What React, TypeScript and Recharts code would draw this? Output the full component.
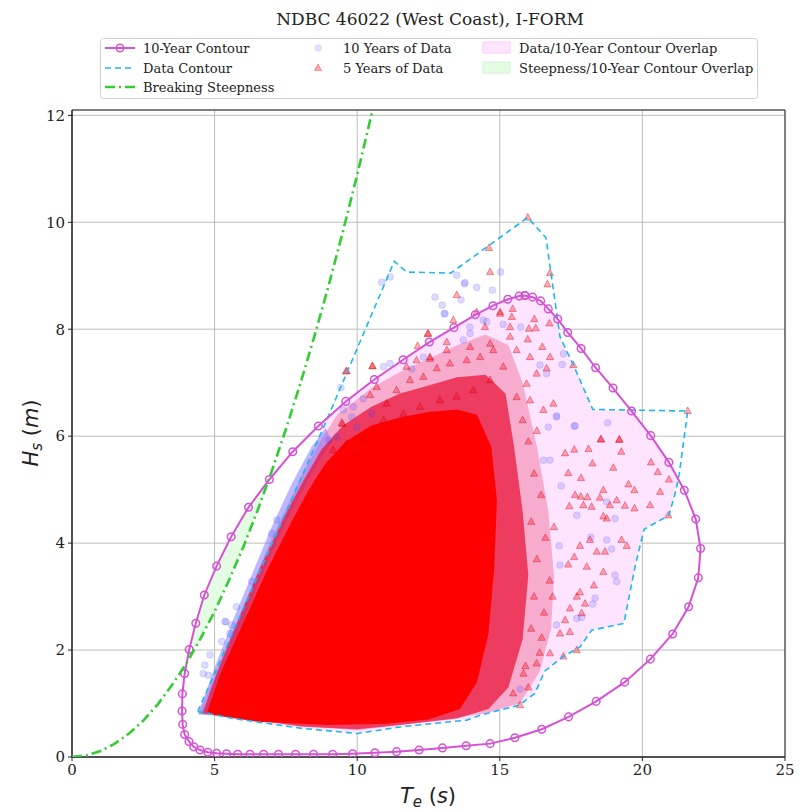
import React from 'react';
import { ScatterChart, Scatter, XAxis, YAxis, CartesianGrid, ReferenceArea } from 'recharts';

// 10-year I-FORM contour (Te, Hs), traced around the loop
const contour10yr: [number, number][] = [
  [15.88, 8.63], [15.68, 8.62], [15.28, 8.56], [14.76, 8.44], [14.14, 8.27], [13.39, 8.03],
  [12.53, 7.76], [11.61, 7.43], [10.6, 7.06], [9.6, 6.65], [8.64, 6.19], [7.74, 5.71],
  [6.92, 5.19], [6.19, 4.67], [5.58, 4.12], [5.07, 3.57], [4.64, 3.03], [4.34, 2.5],
  [4.11, 2.01], [3.95, 1.56], [3.87, 1.18], [3.86, 0.86], [3.88, 0.61], [3.95, 0.42],
  [4.1, 0.29], [4.27, 0.19], [4.49, 0.13], [4.76, 0.09], [5.07, 0.07], [5.42, 0.06],
  [5.81, 0.05], [6.24, 0.05], [6.72, 0.05], [7.24, 0.05], [7.84, 0.05], [8.47, 0.05],
  [9.14, 0.05], [9.84, 0.06], [10.62, 0.08], [11.38, 0.1], [12.17, 0.13], [12.99, 0.17],
  [13.82, 0.21], [14.66, 0.25], [15.53, 0.36], [16.47, 0.52], [17.41, 0.75], [18.38, 1.04],
  [19.38, 1.4], [20.28, 1.83], [21.06, 2.3], [21.62, 2.81], [21.96, 3.35], [22.04, 3.9],
  [21.87, 4.45], [21.47, 4.99], [20.93, 5.51], [20.29, 6.01], [19.62, 6.47], [18.97, 6.9],
  [18.36, 7.28], [17.85, 7.64], [17.38, 7.94], [17.03, 8.19], [16.7, 8.38], [16.43, 8.53],
  [16.15, 8.6], [15.88, 8.63],
];

// hull of the buoy data
const dataContour: [number, number][] = [
  [4.41, 0.85], [8.93, 6.3], [11.3, 9.27], [11.73, 9.07], [13.28, 9.05], [15.98, 10.09],
  [16.62, 9.71], [17.11, 7.86], [17.58, 7.33], [18.26, 6.5], [21.59, 6.47], [21.29, 5.29],
  [21.18, 4.99], [20.93, 4.52], [20.06, 4.26], [19.75, 3.58], [19.35, 2.5], [18.22, 2.37],
  [17.81, 2.06], [17.23, 1.88], [16.58, 1.61], [16.23, 1.19], [15.68, 0.97], [15.01, 0.88],
  [14.31, 0.78], [13.84, 0.69], [11.6, 0.57], [10.0, 0.44], [8.0, 0.54], [5.66, 0.72],
  [4.41, 0.85],
];

const steepnessTe = [0, 0.5, 1, 1.5, 2, 2.5, 3, 3.5, 4, 4.5, 5, 5.5, 6, 6.5, 7, 7.5, 8, 8.5, 9, 9.5, 10, 10.53];
const steepnessHs = [0, 0.03, 0.11, 0.25, 0.44, 0.68, 0.98, 1.34, 1.74, 2.21, 2.72, 3.3, 3.92, 4.6, 5.34, 6.13, 6.97, 7.87, 8.82, 9.83, 10.89, 12.08];

const dataOverlap: [number, number][] = [
  [4.41, 0.85], [8.95, 6.33], [9.6, 6.65], [10.6, 7.06], [11.61, 7.43], [12.53, 7.76],
  [13.39, 8.03], [14.14, 8.27], [14.76, 8.44], [15.28, 8.56], [15.68, 8.62], [15.88, 8.63],
  [16.15, 8.6], [16.43, 8.53], [16.7, 8.38], [17.03, 8.17], [17.11, 7.86], [17.58, 7.33],
  [18.26, 6.5], [19.62, 6.48], [20.29, 6.01], [20.93, 5.51], [21.26, 5.2], [21.18, 4.99],
  [20.93, 4.52], [20.06, 4.26], [19.75, 3.58], [19.35, 2.5], [18.22, 2.37], [17.81, 2.06],
  [17.23, 1.88], [16.58, 1.61], [16.23, 1.19], [15.68, 0.97], [15.01, 0.88], [14.31, 0.78],
  [13.84, 0.69], [11.6, 0.57], [10.0, 0.44], [8.0, 0.54], [5.66, 0.72],
];

const steepOverlap: [number, number][] = [
  [4.02, 1.76], [4.11, 2.01], [4.34, 2.5], [4.64, 3.03], [5.07, 3.57], [5.58, 4.12],
  [6.19, 4.67], [6.9, 5.18], [6.5, 4.6], [6.0, 3.92], [5.5, 3.3], [5.0, 2.72], [4.5, 2.21],
];

// density envelopes of the scatter cloud: sparse outer, blue fringe, dense middle, saturated core
const cloudOuter: [number, number][] = [
  [9.3, 6.4], [10.5, 6.9], [11.5, 7.2], [12.5, 7.45], [13.5, 7.7], [14.5, 7.9], [15.3, 7.7],
  [15.8, 7.0], [16.3, 5.8], [16.7, 4.6], [16.9, 3.4], [16.8, 2.4], [16.4, 1.6], [15.7, 1.0],
  [14.5, 0.82], [13.0, 0.7], [11.5, 0.6], [10.0, 0.5], [8.0, 0.58], [5.7, 0.75], [4.45, 0.8],
  [5.0, 1.5], [6.0, 2.8], [7.0, 4.1], [8.0, 5.2], [8.7, 5.9],
];
const cloudFringe: [number, number][] = [
  [4.42, 0.8], [4.95, 1.6], [5.6, 2.5], [6.3, 3.4], [7.0, 4.3], [7.7, 5.1], [8.4, 5.8],
  [8.9, 6.15], [9.1, 5.9], [8.3, 5.2], [7.6, 4.5], [6.9, 3.7], [6.2, 2.8], [5.5, 1.8],
  [5.0, 1.1], [4.8, 0.78],
];
const cloudMid: [number, number][] = [
  [4.58, 0.82], [5.1, 1.6], [5.85, 2.6], [6.6, 3.55], [7.4, 4.45], [8.15, 5.2], [8.75, 5.75],
  [9.5, 6.2], [10.5, 6.55], [11.5, 6.8], [12.5, 6.95], [13.5, 7.1], [14.5, 7.15], [15.2, 6.8],
  [15.5, 5.8], [15.8, 4.6], [16.0, 3.4], [15.8, 2.2], [15.3, 1.3], [14.6, 0.9], [13.5, 0.72],
  [11.5, 0.6], [10.0, 0.52], [8.0, 0.57], [5.7, 0.75],
];
const cloudCore: [number, number][] = [
  [4.75, 0.85], [5.2, 1.55], [6.0, 2.5], [6.8, 3.45], [7.6, 4.3], [8.3, 5.0], [8.9, 5.5],
  [9.6, 5.9], [10.5, 6.2], [11.5, 6.35], [12.5, 6.45], [13.5, 6.5], [14.2, 6.4], [14.7, 5.8],
  [14.9, 4.8], [14.8, 3.5], [14.6, 2.3], [14.2, 1.4], [13.6, 0.9], [12.5, 0.7], [11.0, 0.62],
  [9.0, 0.6], [6.5, 0.66], [5.0, 0.78],
];

// individually visible observations in the sparse parts of the cloud
const tenYearPts: [number, number][] = [
  [16.99, 6.38], [17.61, 6.19], [18.78, 6.25], [16.7, 6.17], [16.76, 5.55], [16.53, 5.55],
  [17.15, 5.07], [18.75, 4.77], [19.04, 4.46], [17.7, 4.52], [18.19, 4.11], [18.75, 4.06],
  [18.92, 3.89], [17.08, 3.95], [17.11, 3.59], [19.04, 3.4], [19.1, 3.28], [18.34, 2.97],
  [18.26, 2.86], [17.7, 2.59], [17.87, 2.61], [16.99, 2.47], [15.71, 1.27],
  [10.86, 8.88], [11.15, 8.98], [15.03, 9.07], [13.49, 9.01], [13.78, 8.87], [14.19, 8.78],
  [14.74, 8.73], [12.73, 8.6], [13.64, 8.55], [13.05, 8.29], [17.23, 7.54], [17.19, 7.34],
  [17.64, 6.19], [16.99, 6.36], [16.41, 7.33], [16.64, 7.17], [15.73, 8.04], [15.12, 8.09],
  [14.54, 8.14], [13.96, 7.92], [12.98, 8.45], [13.08, 8.29], [13.76, 8.85], [11.15, 7.36],
  [10.92, 7.3], [10.21, 6.7], [9.86, 6.55], [9.51, 6.49], [9.81, 6.36], [9.43, 6.91],
  [9.02, 5.93], [9.28, 5.99], [9.98, 6.17], [10.51, 6.42], [11.91, 7.26], [12.32, 7.48],
  [13.72, 7.8], [13.95, 8.04], [14.42, 8.17], [7.18, 4.43], [7.0, 4.18], [6.3, 3.28],
  [5.77, 2.81], [5.4, 2.53], [5.6, 2.47], [5.25, 2.16], [4.84, 1.91], [4.66, 1.72],
  [4.6, 1.56], [4.78, 1.53], [5.54, 2.31], [5.36, 2.53],
];
const fiveYearPts: [number, number][] = [
  [18.54, 5.94], [19.19, 5.93], [19.26, 5.71], [18.11, 5.76], [17.61, 5.75], [17.29, 5.68],
  [18.25, 5.49], [18.98, 5.41], [20.3, 5.51], [20.54, 5.33], [20.93, 5.19], [17.4, 5.31],
  [17.85, 5.22], [18.63, 4.99], [19.51, 5.1], [19.72, 4.99], [20.62, 4.96], [20.27, 4.71],
  [19.72, 4.65], [19.39, 4.7], [19.1, 4.8], [18.86, 4.71], [18.51, 4.85], [18.07, 4.86],
  [17.84, 4.87], [17.64, 4.9], [17.44, 4.69], [17.93, 4.71], [18.22, 4.68], [18.63, 4.5],
  [18.75, 4.46], [19.27, 4.06], [19.45, 3.95], [18.69, 3.84], [18.4, 3.84], [18.16, 4.06],
  [17.81, 3.95], [17.61, 3.74], [17.4, 3.6], [18.05, 3.56], [18.3, 3.21], [17.81, 3.08],
  [17.7, 3.0], [18.63, 3.46], [17.99, 2.87], [17.46, 2.78], [17.87, 2.69], [17.29, 2.56],
  [17.46, 2.34], [17.11, 2.31], [17.7, 2.0], [17.23, 1.88], [16.76, 1.94], [16.47, 2.23],
  [16.29, 1.75], [15.83, 1.56], [15.47, 1.19], [15.71, 0.97], [20.91, 4.52],
  [15.98, 10.09], [14.62, 9.52], [14.66, 9.07], [13.49, 8.64], [16.76, 9.05], [16.67, 8.84],
  [15.45, 8.38], [16.21, 8.19], [16.74, 8.11], [16.02, 8.01], [16.26, 8.02], [15.98, 7.81],
  [16.49, 7.67], [16.76, 7.48], [17.58, 7.33], [16.06, 7.48], [12.47, 7.91], [12.12, 7.69],
  [10.53, 7.31], [9.61, 7.21], [18.55, 5.94], [19.19, 5.94], [21.59, 6.47], [13.37, 8.17],
  [14.19, 8.32], [15.01, 8.32], [14.48, 8.04], [15.42, 8.23], [12.55, 7.48], [13.14, 7.61],
  [13.96, 7.67], [14.66, 7.73], [15.36, 7.86], [15.59, 7.61], [16.64, 7.27], [15.94, 6.98],
  [16.29, 7.17], [16.88, 6.61], [16.53, 6.49], [16.06, 6.67], [15.59, 6.73], [9.46, 6.25],
  [10.54, 7.31], [9.63, 7.22], [9.48, 6.23], [10.45, 6.77], [10.68, 6.92], [11.38, 6.86],
  [11.03, 6.61], [12.49, 7.92], [13.14, 7.76], [12.08, 7.42], [12.55, 7.45], [11.73, 7.3],
  [11.85, 7.05], [12.32, 7.11], [12.79, 7.27], [13.25, 7.36], [13.84, 7.42], [14.31, 7.48],
  [14.77, 7.61], [11.62, 6.42], [12.2, 6.55], [12.9, 6.67], [13.49, 6.74], [14.07, 6.86],
  [14.66, 7.05], [15.12, 7.3], [15.01, 8.29], [15.36, 8.04], [10.92, 6.3], [10.21, 5.92],
  [9.63, 5.86], [9.16, 5.74], [9.98, 5.68],
  [16.2, 5.3], [16.45, 4.9], [16.1, 4.4], [16.6, 4.1], [16.3, 3.7], [16.75, 3.3],
  [16.2, 3.0], [16.55, 2.7], [16.1, 2.4], [16.4, 1.95], [15.9, 1.7], [16.0, 1.3],
  [16.9, 4.3], [16.85, 3.0], [16.0, 5.9], [15.8, 6.3], [16.3, 6.1],
];

const xTicks = [0, 5, 10, 15, 20, 25];
const yTicks = [0, 2, 4, 6, 8, 10, 12];

const toPts = (arr: [number, number][]) => arr.map(([x, y]) => ({ x, y }));

const MAGENTA = '#d552d5';
const BLUE_LINE = '#1cb8f0';
const GREEN = '#33cc33';
const SERIF = 'DejaVu Serif, serif';
const SANS = 'DejaVu Sans, sans-serif';

const noShape = () => <g />;

const fillPoly = (fill: string, opacity = 1) => (lp: any) => {
  const pts = lp.points || [];
  const d = pts.map((p: any, i: number) => `${i === 0 ? 'M' : 'L'}${p.x},${p.y}`).join(' ') + ' Z';
  return <path d={d} fill={fill} fillOpacity={opacity} stroke="none" />;
};

const circleShape = (p: any) => (
  <circle cx={p.cx} cy={p.cy} r={3.4} fill="rgba(60,60,255,0.18)" stroke="rgba(60,60,255,0.15)" strokeWidth={1} />
);
const triShape = (p: any) => (
  <polygon
    points={`${p.cx},${p.cy - 4} ${p.cx - 3.6},${p.cy + 2.6} ${p.cx + 3.6},${p.cy + 2.6}`}
    fill="rgba(255,0,0,0.32)"
    stroke="rgba(200,0,30,0.38)"
    strokeWidth={1}
  />
);
const ringShape = (p: any) => (
  <circle cx={p.cx} cy={p.cy} r={3.8} fill="none" stroke={MAGENTA} strokeWidth={1.5} />
);

function LegendBox() {
  const row = [48, 68, 87];
  return (
    <g>
      <rect x={100.5} y={38.5} width={657} height={60} rx={3} fill="#fff" fillOpacity={0.85} stroke="#d0d0d0" />
      <line x1={105} x2={135} y1={row[0]} y2={row[0]} stroke={MAGENTA} strokeWidth={2} />
      <circle cx={120} cy={row[0]} r={3.8} fill="none" stroke={MAGENTA} strokeWidth={1.5} />
      <line x1={105} x2={135} y1={row[1]} y2={row[1]} stroke={BLUE_LINE} strokeWidth={1.6} strokeDasharray="6 4" />
      <line x1={105} x2={135} y1={row[2]} y2={row[2]} stroke={GREEN} strokeWidth={2.6} strokeDasharray="10 4 2 4" />
      <circle cx={318} cy={row[0]} r={3.3} fill="rgba(60,60,255,0.15)" stroke="rgba(60,60,255,0.12)" />
      <polygon points={`318,${row[1] - 4} 314.4,${row[1] + 2.6} 321.6,${row[1] + 2.6}`} fill="rgba(255,0,0,0.35)" stroke="rgba(200,0,30,0.3)" />
      <rect x={483} y={row[0] - 6} width={27} height={11} fill="#ffe4ff" stroke="#f6d0f6" />
      <rect x={483} y={row[1] - 6} width={27} height={11} fill="#e4fbe4" stroke="#d4f2d4" />
      <g fontFamily={SERIF} fontSize={13} fill="#222">
        <text x={143} y={row[0] + 4.5}>10-Year Contour</text>
        <text x={143} y={row[1] + 4.5}>Data Contour</text>
        <text x={143} y={row[2] + 4.5}>Breaking Steepness</text>
        <text x={343} y={row[0] + 4.5}>10 Years of Data</text>
        <text x={343} y={row[1] + 4.5}>5 Years of Data</text>
        <text x={519} y={row[0] + 4.5}>Data/10-Year Contour Overlap</text>
        <text x={519} y={row[1] + 4.5}>Steepness/10-Year Contour Overlap</text>
      </g>
    </g>
  );
}

export default function App() {
  const steepness = steepnessTe.map((x, i) => ({ x, y: steepnessHs[i] }));
  return (
    <div style={{ position: 'absolute', left: 0, top: 0, width: 800, height: 810, background: '#fff' }}>
      <ScatterChart width={800} height={810} margin={{ top: 110, right: 15, bottom: 23, left: 32 }}>
        <CartesianGrid stroke="#bdbdbd" strokeWidth={1} />
        <XAxis
          type="number"
          dataKey="x"
          domain={[0, 25]}
          ticks={xTicks}
          height={30}
          tickSize={4}
          tickMargin={3}
          stroke="#222"
          tick={{ fontFamily: SERIF, fontSize: 15, fill: '#222' }}
          allowDataOverflow
        />
        <YAxis
          type="number"
          dataKey="y"
          domain={[0, 12.1]}
          ticks={yTicks}
          width={40}
          tickSize={4}
          tickMargin={3}
          stroke="#222"
          tick={{ fontFamily: SERIF, fontSize: 15, fill: '#222' }}
          allowDataOverflow
        />
        <Scatter data={toPts(dataOverlap)} shape={noShape} line={fillPoly('#ffe4ff')} isAnimationActive={false} />
        <Scatter data={toPts(steepOverlap)} shape={noShape} line={fillPoly('#e4fbe4')} isAnimationActive={false} />
        <Scatter data={toPts(cloudOuter)} shape={noShape} line={fillPoly('#e84070', 0.34)} isAnimationActive={false} />
        <Scatter data={toPts(cloudFringe)} shape={noShape} line={fillPoly('#7a70ff', 0.5)} isAnimationActive={false} />
        <Scatter data={toPts(cloudMid)} shape={noShape} line={fillPoly('#ea1038', 0.72)} isAnimationActive={false} />
        <Scatter data={toPts(cloudCore)} shape={noShape} line={fillPoly('#ff0000')} isAnimationActive={false} />
        <Scatter data={toPts(tenYearPts)} shape={circleShape} isAnimationActive={false} />
        <Scatter data={toPts(fiveYearPts)} shape={triShape} isAnimationActive={false} />
        <Scatter
          data={toPts(dataContour)}
          shape={noShape}
          line={{ stroke: BLUE_LINE, strokeWidth: 1.6, strokeDasharray: '6 4' }}
          isAnimationActive={false}
        />
        <Scatter
          data={toPts(contour10yr)}
          shape={ringShape}
          line={{ stroke: MAGENTA, strokeWidth: 2 }}
          isAnimationActive={false}
        />
        <Scatter
          data={steepness}
          shape={noShape}
          line={{ stroke: GREEN, strokeWidth: 2.6, strokeDasharray: '10 4 2 4' }}
          isAnimationActive={false}
        />
        <ReferenceArea x1={0} x2={25} y1={0} y2={12.1} fill="none" stroke="#222" strokeWidth={1} ifOverflow="visible" />
      </ScatterChart>
      <svg width={800} height={810} style={{ position: 'absolute', left: 0, top: 0, pointerEvents: 'none' }}>
        <text x={430} y={25} textAnchor="middle" fontFamily={SERIF} fontSize={17} fill="#222">
          NDBC 46022 (West Coast), I-FORM
        </text>
        <LegendBox />
        <text x={428} y={803} textAnchor="middle" fontFamily={SANS} fontSize={21} fill="#222">
          <tspan fontStyle="italic">T</tspan>
          <tspan fontStyle="italic" fontSize={15} dy={4}>e</tspan>
          <tspan dy={-4}> (</tspan>
          <tspan fontStyle="italic">s</tspan>
          <tspan>)</tspan>
        </text>
        <text x={0} y={0} transform="translate(38,433) rotate(-90)" textAnchor="middle" fontFamily={SANS} fontSize={21} fill="#222">
          <tspan fontStyle="italic">H</tspan>
          <tspan fontStyle="italic" fontSize={15} dy={4}>s</tspan>
          <tspan dy={-4}> (</tspan>
          <tspan fontStyle="italic">m</tspan>
          <tspan>)</tspan>
        </text>
      </svg>
    </div>
  );
}
